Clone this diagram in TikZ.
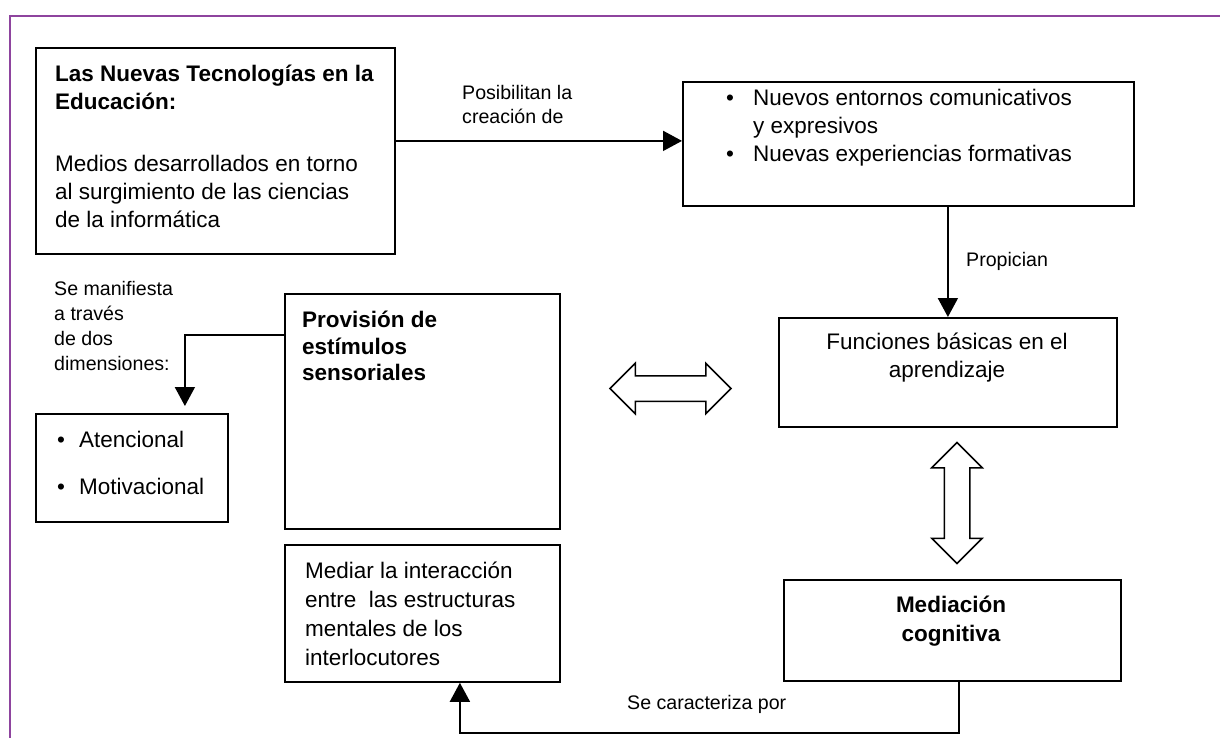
\documentclass[tikz,border=0pt]{standalone}
\usepackage{fontspec}
\setmainfont{Liberation Sans}
\usepackage{xcolor}
\usepackage{tikz}
\usetikzlibrary{positioning,arrows.meta,shapes.arrows}

\definecolor{marco}{RGB}{142,68,158}

\begin{document}
\begin{tikzpicture}[x=1pt, y=-1pt,
  caja/.style={draw, line width=1.8pt, inner sep=0pt, anchor=north west},
  texto/.style={inner sep=0pt, anchor=north west, align=left, font=\fontsize{22.5}{28}\selectfont},
  etiq/.style={inner sep=0pt, anchor=north west, align=left, font=\fontsize{19.6}{24}\selectfont},
  flecha/.style={line width=1.8pt, -{Triangle[length=19pt,width=20pt]}},
  doble/.style={double arrow, draw, line width=1.5pt, inner xsep=0pt, inner ysep=12pt,
    minimum height=121pt, double arrow head extend=12.5pt, double arrow tip angle=90}]

\useasboundingbox (0,0) rectangle (1220,738);

% marco
\draw[marco, line width=2pt] (10,738) -- (10,16) -- (1220,16);

% cajas
\node[caja, minimum width=359pt, minimum height=206pt] (tic) at (35,47) {};
\node[caja, minimum width=451pt, minimum height=124pt] (nuevos) at (682,81) {};
\node[caja, minimum width=338pt, minimum height=109pt] (func) at (778,317) {};
\node[caja, minimum width=337pt, minimum height=101pt] (medi) at (783,579) {};
\node[caja, minimum width=275pt, minimum height=235pt] (prov) at (284,293) {};
\node[caja, minimum width=275pt, minimum height=137pt] (inter) at (284,544) {};
\node[caja, minimum width=192pt, minimum height=108pt] (dim) at (35,413) {};

% textos
\node[texto] (tictxt) at (55,65) {\textbf{Las Nuevas Tecnologías en la}\\\textbf{Educación:}\\[34pt]Medios desarrollados en torno\\al surgimiento de las ciencias\\de la informática};
\node[texto] (nuevostxt) at (726,89) {\textbullet\hspace{19pt}Nuevos entornos comunicativos\\\hspace*{27pt}y expresivos\\\textbullet\hspace{19pt}Nuevas experiencias formativas};
\node[texto, anchor=north, align=center] (functxt) at (947,333) {Funciones básicas en el\\aprendizaje};
\node[texto, anchor=north, align=center, font=\fontsize{22.5}{29}\selectfont\bfseries] (meditxt) at (951,596) {Mediación\\cognitiva};
\node[texto, font=\fontsize{22.5}{26.5}\selectfont\bfseries] (provtxt) at (302,311) {Provisión de\\estímulos\\sensoriales};
\node[texto, font=\fontsize{22.5}{29}\selectfont] (intertxt) at (305,562) {Mediar la interacción\\entre~ las estructuras\\mentales de los\\interlocutores};
\node[texto] (dimtxt) at (57,431) {\textbullet\hspace{14pt}Atencional\\[19pt]\textbullet\hspace{14pt}Motivacional};

% etiquetas
\node[etiq] (posib) at (462,85) {Posibilitan la\\creación de};
\node[etiq] (propi) at (966,252) {Propician};
\node[etiq, font=\fontsize{19.6}{25}\selectfont] (manif) at (54,281) {Se manifiesta\\a través\\de dos\\dimensiones:};
\node[etiq] (carac) at (627,695) {Se caracteriza por};

% flechas
\coordinate (p1) at ([yshift=10pt]tic.east);
\draw[flecha] (p1) -- (p1 -| nuevos.west);
\draw[flecha] (nuevos.south -| func.north) -- (func.north);
\draw[flecha, shorten >=7pt] ([yshift=76.5pt]prov.west) -| ([xshift=53pt]dim.north);
\draw[flecha] ([xshift=6.5pt]medi.south) -- ++(0pt,-51pt) -| ([xshift=37.5pt]inter.south);

% flechas dobles
\node[doble] (hflecha) at (670.5,388.5) {};
\node[doble, rotate=90] (vflecha) at (957,503) {};
\end{tikzpicture}
\end{document}
